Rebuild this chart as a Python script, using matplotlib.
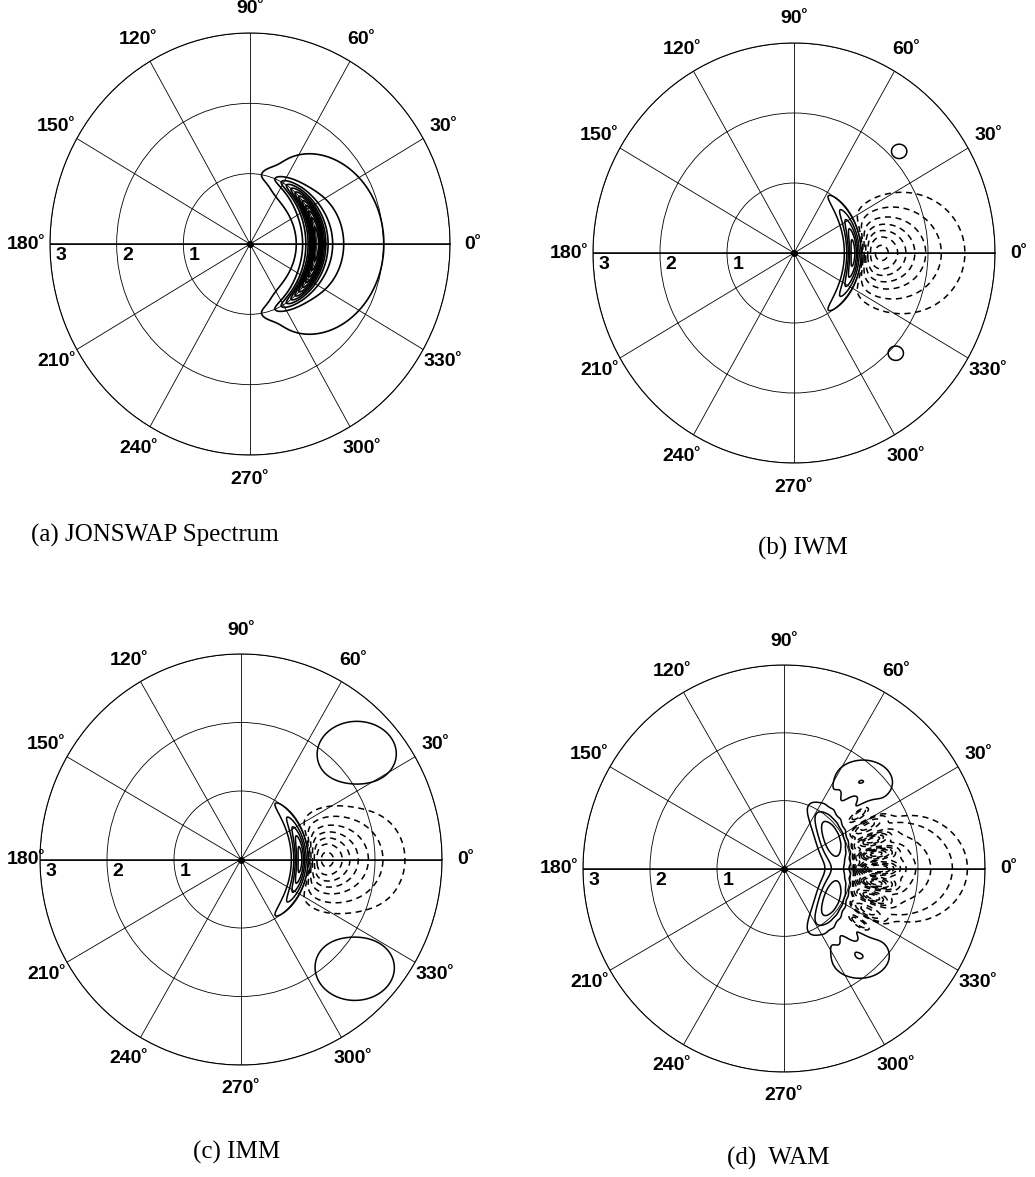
import numpy as np
import matplotlib
matplotlib.use("Agg")
import matplotlib.pyplot as plt

plt.rcParams['font.family'] = ['Liberation Sans', 'DejaVu Sans']

### lecture de la figure : rayon = frequence (0..3), angle = direction
angle_ticks = [0, 30, 60, 90, 120, 150, 180, 210, 240, 270, 300, 330]
angle_labels = [str(a) + '\u02da' for a in angle_ticks]
radius_ticks = [1, 2, 3]
captions = ['(a) JONSWAP Spectrum', '(b) IWM', '(c) IMM', '(d)  WAM']

# (a) spectre JONSWAP
peak_freq = 1.0
gamma = 3.3
sigma_ab = [0.07, 0.09]
spread_power = 2.0
jonswap_levels = [0.03, 0.14, 0.22, 0.3, 0.38, 0.46, 0.54, 0.62, 0.7, 0.78, 0.86, 0.94]

# (b)(c)(d) transfert non lineaire
# lobe positif : amplitude, rayon, largeur, courbure, ecart angulaire (deg), angle des maxima (deg)
pos_lobe = {'IWM': [1.0, 0.88, 0.06, 0.08, 27, 0],
            'IMM': [1.0, 0.88, 0.06, 0.08, 27, 0],
            'WAM': [0.6, 0.80, 0.13, 0.12, 19, 32]}
# lobe negatif : amplitude, debut, longueur, ecart angulaire (deg)
neg_lobe = {'IWM': [1.0, 1.00, 0.30, 15],
            'IMM': [1.0, 1.00, 0.28, 15],
            'WAM': [0.9, 1.02, 0.33, 13]}
# bande hachuree de WAM : amplitude, rayon, largeur, ecart angulaire (deg), nombre de stries
wam_hatch = [0.9, 1.40, 0.16, 21, 40]
# taches laterales : x, y, largeur x, largeur y, amplitude
side_blobs = {'IWM': [[1.57, 1.45, 0.10, 0.09, 0.2], [1.52, -1.43, 0.10, 0.09, 0.2]],
              'IMM': [[1.73, 1.53, 0.44, 0.36, 0.25], [1.70, -1.57, 0.44, 0.36, 0.25]],
              'WAM': [[1.18, 1.25, 0.35, 0.27, 0.23], [1.13, -1.27, 0.35, 0.27, 0.23]]}
pos_levels = {'IWM': [0.1, 0.3, 0.5, 0.7, 0.9],
              'IMM': [0.1, 0.3, 0.5, 0.7, 0.9],
              'WAM': [0.1, 0.224, 0.4]}
neg_levels = {'IWM': [-0.95, -0.8, -0.65, -0.5, -0.35, -0.2, -0.08],
              'IMM': [-0.95, -0.8, -0.65, -0.5, -0.35, -0.2, -0.08],
              'WAM': [-1.4, -1.2, -1.0, -0.85, -0.7, -0.55, -0.4, -0.25, -0.12, -0.07]}

# position des axes (pixels : gauche, haut, droite, bas)
panel_px = [[50, 33, 450, 455], [593, 43, 995, 463],
            [40, 654, 442, 1065], [583, 665, 985, 1072]]
caption_px = [[155, 535], [803, 548], [237, 1152], [778, 1158]]

W, H = 1035, 1177
fig = plt.figure(figsize=(W / 100, H / 100), dpi=100)

th = np.linspace(-np.pi, np.pi, 1081)
rr = np.linspace(0.05, 3.0, 500)
TH, R = np.meshgrid(th, rr)
X = R * np.cos(TH)
Y = R * np.sin(TH)


def jonswap():
    f = R
    sig = np.where(f <= peak_freq, sigma_ab[0], sigma_ab[1])
    pm = f ** -5 * np.exp(-1.25 * (peak_freq / f) ** 4)
    peak = gamma ** np.exp(-(f - peak_freq) ** 2 / (2 * sig ** 2 * peak_freq ** 2))
    d = np.where(np.abs(TH) < np.pi / 2, np.cos(TH) ** spread_power, 0)
    E = pm * peak * d
    return E / E.max()


def transfer(name):
    a, r0, w, bend, s, tm = pos_lobe[name]
    s = np.radians(s)
    tm = np.radians(tm)
    if tm == 0:
        ang = np.exp(-0.5 * (TH / s) ** 2)
    else:
        ang = np.exp(-0.5 * ((TH - tm) / s) ** 2) + np.exp(-0.5 * ((TH + tm) / s) ** 2)
    rc = r0 + bend * TH ** 2
    T = a * np.exp(-0.5 * ((R - rc) / w) ** 2) * ang
    b, f0, L, sn = neg_lobe[name]
    x = np.clip((R - f0) / L, 0, None)
    g = x * np.exp(1 - x)
    T = T - b * g * np.exp(-0.5 * (TH / np.radians(sn)) ** 2)
    if name == 'WAM':
        c, rh, wh, sh, nh = wam_hatch
        stries = 0.5 * (1 + np.cos(nh * TH))
        T = T - c * np.exp(-0.5 * ((R - rh) / wh) ** 2) * np.exp(-0.5 * (TH / np.radians(sh)) ** 2) * stries
    for bx, by, sx, sy, amp in side_blobs[name]:
        T = T + amp * np.exp(-0.5 * (((X - bx) / sx) ** 2 + ((Y - by) / sy) ** 2))
    return T


for k in range(4):
    x0, y0, x1, y1 = panel_px[k]
    ax = fig.add_axes([x0 / W, 1 - y1 / H, (x1 - x0) / W, (y1 - y0) / H], projection='polar')
    ax.set_aspect('auto')
    ax.set_ylim(0, 3)
    ax.set_rgrids(radius_ticks, labels=[])
    ax.set_thetagrids(angle_ticks, labels=[])
    ax.grid(True, color='k', lw=0.6, ls='-')
    ax.spines['polar'].set_linewidth(0.8)
    ax.plot([0, np.pi], [3, 3], color='k', lw=1.1)
    ax.plot(0, 0, 'ko', ms=4)

    if k == 0:
        ax.contour(TH, R, jonswap(), levels=jonswap_levels, colors='k',
                   linewidths=1.2, linestyles='solid')
    else:
        name = ['IWM', 'IMM', 'WAM'][k - 1]
        T = transfer(name)
        ax.contour(TH, R, T, levels=pos_levels[name], colors='k',
                   linewidths=1.1, linestyles='solid')
        ax.contour(TH, R, T, levels=neg_levels[name], colors='k',
                   linewidths=1.1, linestyles=[(0, (4, 3))])

    for a, lab in zip(angle_ticks, angle_labels):
        rlab = 3.35
        if a == 180 and x0 < 45:
            rlab = 3.2   # bord gauche de la figure
        ax.text(np.radians(a), rlab, lab, ha='center', va='center',
                fontsize=14, fontweight='bold', clip_on=False)
    for r in radius_ticks:
        ax.annotate(str(r), xy=(np.pi, r), xytext=(8, -8.5), textcoords='offset points',
                    ha='center', va='center', fontsize=14, fontweight='bold')

    cx, cy = caption_px[k]
    fig.text(cx / W, 1 - cy / H, captions[k], ha='center', va='center',
             fontsize=18, family='Liberation Serif')

fig.savefig('out.png', dpi=100)
